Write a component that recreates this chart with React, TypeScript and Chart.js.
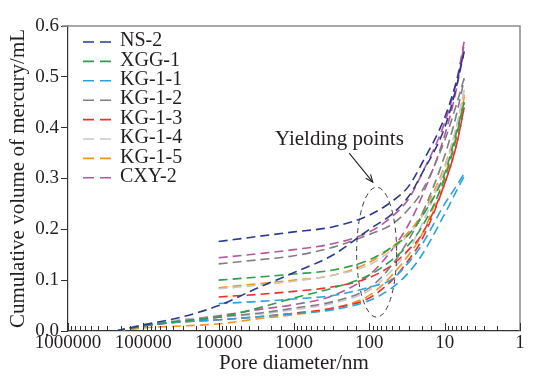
import React, { useEffect, useRef } from 'react';
import { Chart, registerables } from 'chart.js';

Chart.register(...registerables);

// ---- data ----
const samples = ['NS-2', 'XGG-1', 'KG-1-1', 'KG-1-2', 'KG-1-3', 'KG-1-4', 'KG-1-5', 'CXY-2'];
const colors = ['#2b3990', '#2e9e4a', '#29a3e0', '#7f7f7f', '#e8322d', '#c8c8c8', '#f7941d', '#b5569e'];

// pore diameters (nm)
const intrusionDiameters = [230000, 100000, 30000, 10000, 3000, 1000, 300, 100, 50, 30, 20, 10, 7, 5.5];
const extrusionDiameters = [10000, 3000, 1000, 300, 100, 50, 30, 20, 10, 7, 5.5];

// cumulative volume (mL) – intrusion
const inNS2 = [0, 0.012, 0.028, 0.05, 0.085, 0.115, 0.15, 0.2, 0.23, 0.265, 0.31, 0.4, 0.48, 0.55];
const inXGG1 = [0, 0.01, 0.02, 0.027, 0.045, 0.065, 0.085, 0.11, 0.14, 0.17, 0.205, 0.3, 0.38, 0.45];
const inKG11 = [0, 0.01, 0.018, 0.022, 0.028, 0.034, 0.042, 0.06, 0.085, 0.115, 0.15, 0.23, 0.275, 0.305];
const inKG12 = [0, 0.01, 0.02, 0.028, 0.035, 0.045, 0.058, 0.085, 0.13, 0.18, 0.23, 0.345, 0.425, 0.495];
const inKG13 = [0, 0.01, 0.018, 0.022, 0.028, 0.035, 0.045, 0.065, 0.1, 0.14, 0.18, 0.29, 0.365, 0.44];
const inKG14 = [0, 0.012, 0.022, 0.027, 0.033, 0.042, 0.055, 0.08, 0.12, 0.16, 0.21, 0.32, 0.4, 0.475];
const inKG15 = [0, 0.006, 0.01, 0.014, 0.024, 0.032, 0.045, 0.07, 0.11, 0.15, 0.19, 0.305, 0.385, 0.46];
const inCXY2 = [0, 0.012, 0.022, 0.03, 0.042, 0.052, 0.07, 0.11, 0.16, 0.21, 0.265, 0.385, 0.475, 0.565];

// cumulative volume (mL) – extrusion
const exNS2 = [0.176, 0.186, 0.195, 0.205, 0.228, 0.255, 0.285, 0.33, 0.42, 0.49, 0.55];
const exXGG1 = [0.1, 0.106, 0.112, 0.12, 0.14, 0.165, 0.19, 0.225, 0.31, 0.39, 0.45];
const exKG11 = [0.054, 0.058, 0.063, 0.07, 0.086, 0.102, 0.135, 0.17, 0.25, 0.285, 0.31];
const exKG12 = [0.132, 0.14, 0.148, 0.165, 0.19, 0.21, 0.24, 0.275, 0.375, 0.445, 0.498];
const exKG13 = [0.067, 0.072, 0.078, 0.087, 0.105, 0.13, 0.16, 0.19, 0.29, 0.365, 0.44];
const exKG14 = [0.083, 0.09, 0.098, 0.11, 0.13, 0.16, 0.19, 0.225, 0.32, 0.4, 0.475];
const exKG15 = [0.085, 0.093, 0.1, 0.11, 0.135, 0.165, 0.195, 0.23, 0.325, 0.4, 0.465];
const exCXY2 = [0.144, 0.152, 0.16, 0.172, 0.195, 0.225, 0.26, 0.31, 0.41, 0.49, 0.57];

const intrusionSeries = [inNS2, inXGG1, inKG11, inKG12, inKG13, inKG14, inKG15, inCXY2];
const extrusionSeries = [exNS2, exXGG1, exKG11, exKG12, exKG13, exKG14, exKG15, exCXY2];

const yTicks = [0, 0.1, 0.2, 0.3, 0.4, 0.5, 0.6];
const xTitle = 'Pore diameter/nm';
const yTitle = 'Cumulative volume of mercury/mL';

// annotation (data coordinates)
const yieldText = 'Yielding points';
const yieldTextAt = { d: 250, v: 0.38 };
const yieldArrowFrom = { d: 185, v: 0.35 };
const yieldArrowTo = { d: 90, v: 0.293 };
const yieldEllipseAt = { d: 80, v: 0.155 };

const FONT = '"Liberation Serif", "Times New Roman", serif';
const TEXT = '#231f20';

const decorPlugin = {
  id: 'decor',
  afterDraw(chart: any) {
    const { ctx, chartArea: a, scales } = chart;
    const xs = scales.x;
    const ys = scales.y;
    ctx.save();
    // top & right frame
    ctx.strokeStyle = '#8a8a8a';
    ctx.lineWidth = 1.5;
    ctx.beginPath();
    ctx.moveTo(a.left - 6, a.top);
    ctx.lineTo(a.right, a.top);
    ctx.lineTo(a.right, a.bottom);
    ctx.stroke();
    // inward x ticks
    ctx.strokeStyle = '#333';
    ctx.lineWidth = 1;
    xs.ticks.forEach((t: any) => {
      const l = Math.log10(t.value);
      const major = Math.abs(l - Math.round(l)) < 1e-6;
      const px = Math.round(xs.getPixelForValue(t.value)) + 0.5;
      ctx.beginPath();
      ctx.moveTo(px, a.bottom);
      ctx.lineTo(px, a.bottom - (major ? 8 : 5));
      ctx.stroke();
    });
    // legend
    const lx = a.left + 15;
    const ly = a.top + 16;
    const step = 19.4;
    ctx.font = `20px ${FONT}`;
    ctx.textBaseline = 'middle';
    ctx.textAlign = 'left';
    samples.forEach((s, i) => {
      const y = ly + i * step;
      ctx.strokeStyle = colors[i];
      ctx.lineWidth = 1.6;
      ctx.setLineDash([11, 6]);
      ctx.beginPath();
      ctx.moveTo(lx, y);
      ctx.lineTo(lx + 29, y);
      ctx.stroke();
      ctx.setLineDash([]);
      ctx.fillStyle = TEXT;
      ctx.fillText(s, lx + 37, y - 1);
    });
    // annotation text
    ctx.font = `21px ${FONT}`;
    ctx.textAlign = 'center';
    ctx.textBaseline = 'alphabetic';
    ctx.fillStyle = TEXT;
    ctx.fillText(yieldText, xs.getPixelForValue(yieldTextAt.d), ys.getPixelForValue(yieldTextAt.v) + 7);
    // arrow
    const x1 = xs.getPixelForValue(yieldArrowFrom.d);
    const y1 = ys.getPixelForValue(yieldArrowFrom.v);
    const x2 = xs.getPixelForValue(yieldArrowTo.d);
    const y2 = ys.getPixelForValue(yieldArrowTo.v);
    ctx.strokeStyle = '#231f20';
    ctx.lineWidth = 1.1;
    ctx.beginPath();
    ctx.moveTo(x1, y1);
    ctx.lineTo(x2, y2);
    ctx.stroke();
    const ang = Math.atan2(y2 - y1, x2 - x1);
    const hl = 8;
    ctx.beginPath();
    ctx.moveTo(x2 - hl * Math.cos(ang - 0.4), y2 - hl * Math.sin(ang - 0.4));
    ctx.lineTo(x2, y2);
    ctx.lineTo(x2 - hl * Math.cos(ang + 0.4), y2 - hl * Math.sin(ang + 0.4));
    ctx.stroke();
    // ellipse
    ctx.setLineDash([5, 4]);
    ctx.strokeStyle = '#3a3a3a';
    ctx.lineWidth = 1;
    ctx.beginPath();
    ctx.ellipse(xs.getPixelForValue(yieldEllipseAt.d), ys.getPixelForValue(yieldEllipseAt.v), 20, 65, 0, 0, Math.PI * 2);
    ctx.stroke();
    ctx.restore();
  },
};

export default function App() {
  const ref = useRef<HTMLCanvasElement>(null);
  useEffect(() => {
    document.body.style.margin = '0';
    const datasets: any[] = [];
    samples.forEach((s, i) => {
      datasets.push({
        label: s + ' intrusion',
        data: intrusionDiameters.map((d, k) => ({ x: d, y: intrusionSeries[i][k] })),
        borderColor: colors[i],
        borderWidth: 1.6,
        borderDash: [9, 5],
        pointRadius: 0,
        fill: false,
        cubicInterpolationMode: 'monotone',
      });
      datasets.push({
        label: s + ' extrusion',
        data: extrusionDiameters.map((d, k) => ({ x: d, y: extrusionSeries[i][k] })),
        borderColor: colors[i],
        borderWidth: 1.6,
        borderDash: [9, 5],
        pointRadius: 0,
        fill: false,
        cubicInterpolationMode: 'monotone',
      });
    });
    const chart = new Chart(ref.current as HTMLCanvasElement, {
      type: 'line',
      data: { datasets },
      options: {
        animation: false,
        responsive: false,
        devicePixelRatio: 1,
        layout: { padding: { top: 26, right: 14, left: 0, bottom: 0 } },
        plugins: { legend: { display: false }, tooltip: { enabled: false } },
        scales: {
          x: {
            type: 'logarithmic',
            reverse: true,
            min: 1,
            max: 1000000,
            afterFit: (s: any) => { s.height = 47; },
            grid: { display: true, drawOnChartArea: false, drawTicks: false, color: 'rgba(0,0,0,0)' },
            border: { display: true, color: '#333', width: 1.2 },
            ticks: {
              autoSkip: false,
              maxRotation: 0,
              padding: 1,
              color: TEXT,
              font: { family: FONT, size: 19 },
              callback: (v: any) => {
                const l = Math.log10(Number(v));
                return Math.abs(l - Math.round(l)) < 1e-6 ? String(Math.round(Number(v))) : '';
              },
            },
            title: { display: true, text: xTitle, color: TEXT, font: { family: FONT, size: 21 }, padding: { top: 0, bottom: 2 } },
          },
          y: {
            type: 'linear',
            min: 0,
            max: 0.6,
            afterFit: (s: any) => { s.width = 68; },
            afterBuildTicks: (s: any) => { s.ticks = yTicks.map((v) => ({ value: v })); },
            grid: { display: true, drawOnChartArea: false, drawTicks: true, tickLength: 7, color: '#333' },
            border: { display: true, color: '#333', width: 1.2 },
            ticks: {
              padding: 2,
              color: TEXT,
              font: { family: FONT, size: 19 },
              callback: (v: any) => Number(v).toFixed(1),
            },
            title: { display: true, text: yTitle, color: TEXT, font: { family: FONT, size: 21 }, padding: { top: 6, bottom: 0 } },
          },
        },
      } as any,
      plugins: [decorPlugin],
    });
    return () => chart.destroy();
  }, []);
  return (
    <div style={{ width: 534, height: 378 }}>
      <canvas ref={ref} width={534} height={378} style={{ display: 'block' }} />
    </div>
  );
}
